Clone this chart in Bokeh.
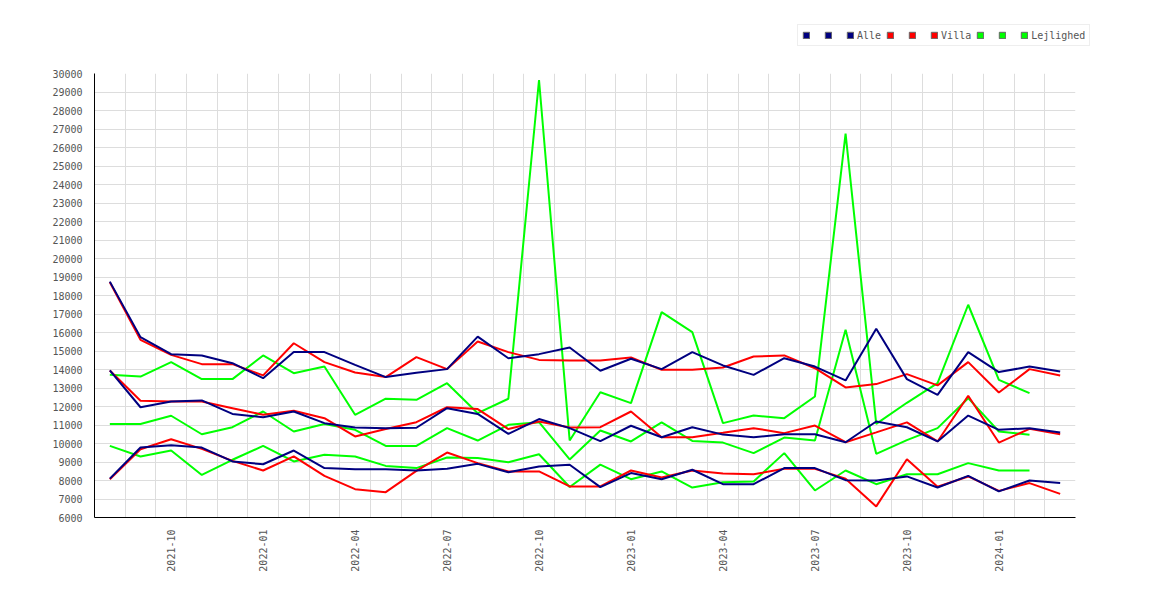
import math
from bokeh.plotting import figure
from bokeh.models import Range1d, FixedTicker, SingleIntervalTicker, Legend, LegendItem, ColumnDataSource
from bokeh.embed import file_html
from bokeh.resources import INLINE
from bokeh.core.properties import value

months = ["2021-08", "2021-09", "2021-10", "2021-11", "2021-12",
          "2022-01", "2022-02", "2022-03", "2022-04", "2022-05", "2022-06",
          "2022-07", "2022-08", "2022-09", "2022-10", "2022-11", "2022-12",
          "2023-01", "2023-02", "2023-03", "2023-04", "2023-05", "2023-06",
          "2023-07", "2023-08", "2023-09", "2023-10", "2023-11", "2023-12",
          "2024-01", "2024-02", "2024-03"]

alle_high = [18750, 15750, 14830, 14760, 14340, 13530, 14940, 14940, 14250, 13590, 13820,
             14020, 15780, 14610, 14830, 15190, 13930, 14580, 14020, 14940, 14220, 13710,
             14610, 14160, 13410, 16200, 13480, 12630, 14940, 13860, 14160, 13890]
alle_mid = [13950, 11960, 12270, 12330, 11600, 11420, 11730, 11100, 10870, 10830, 10850,
            11910, 11600, 10520, 11320, 10830, 10130, 10960, 10340, 10880, 10480, 10340,
            10500, 10500, 10070, 11190, 10880, 10110, 11510, 10740, 10830, 10600]
alle_low = [8100, 9780, 9910, 9780, 9030, 8880, 9620, 8670, 8610, 8610, 8540,
            8630, 8900, 8450, 8760, 8850, 7640, 8400, 8070, 8580, 7800, 7800,
            8670, 8670, 8020, 8000, 8220, 7620, 8250, 7410, 8000, 7860]

villa_high = [18720, 15600, 14790, 14290, 14290, 13680, 15420, 14400, 13840, 13590, 14670,
              14020, 15510, 14940, 14520, 14490, 14490, 14650, 13980, 13980, 14110, 14700,
              14760, 14070, 13030, 13210, 13750, 13140, 14400, 12760, 14020, 13680]
villa_mid = [13950, 12310, 12270, 12270, 11910, 11550, 11770, 11370, 10380, 10780, 11150,
             11960, 11860, 10780, 11190, 10870, 10880, 11730, 10340, 10340, 10580, 10830,
             10560, 10970, 10070, 10600, 11140, 10110, 12580, 10050, 10790, 10500]
villa_low = [8070, 9690, 10230, 9710, 9060, 8540, 9300, 8250, 7530, 7370, 8520,
             9510, 8940, 8490, 8490, 7680, 7680, 8540, 8160, 8540, 8380, 8340,
             8630, 8630, 8100, 6600, 9150, 7660, 8220, 7440, 7860, 7280]

lejl_high = [13710, 13620, 14400, 13480, 13480, 14760, 13800, 14160, 11550, 12420, 12360,
             13260, 11640, 12420, 29650, 10160, 12770, 12180, 17100, 16020, 11100, 11510,
             11370, 12540, 26750, 11060, 12200, 13260, 17500, 13440, 12720]
lejl_mid = [11050, 11050, 11500, 10500, 10880, 11730, 10650, 11050, 10740, 9870, 9870,
            10830, 10160, 11010, 11150, 9140, 10700, 10110, 11140, 10140, 10050, 9480,
            10320, 10160, 16150, 9440, 10180, 10830, 12450, 10650, 10470]
lejl_low = [9870, 9300, 9620, 8300, 9120, 9870, 9030, 9390, 9300, 8790, 8670,
            9240, 9210, 8990, 9420, 7650, 8860, 8070, 8490, 7620, 7900, 7950,
            9480, 7460, 8540, 7800, 8340, 8340, 8940, 8540, 8540]

groups = [("Alle", "#000080", [alle_high, alle_mid, alle_low]),
          ("Villa", "#ff0000", [villa_high, villa_mid, villa_low]),
          ("Lejlighed", "#00ff00", [lejl_high, lejl_mid, lejl_low])]

FONT = "DejaVu Sans Mono"
TXT = "#555555"
W = 1154
LEG_H = 50

# ---- legend strip (separate small figure above the chart) ----
lf = figure(width=W, height=LEG_H, output_backend="svg", toolbar_location=None,
            x_range=Range1d(0, 1), y_range=Range1d(0, 1),
            min_border_left=0, min_border_right=0, min_border_top=0, min_border_bottom=0)
lf.axis.visible = False
lf.grid.visible = False
lf.outline_line_color = None
lf.background_fill_color = "white"
lf.border_fill_color = "white"

nan = float("nan")
items = []
for name, color, series in groups:
    for k in range(3):
        r = lf.rect(x=[nan], y=[nan], width=1, height=1,
                    fill_color=color, line_color="#666666", line_width=1)
        items.append(LegendItem(label=value(name if k == 2 else " "), renderers=[r]))
legend = Legend(items=items, orientation="horizontal", location=(797, LEG_H - 46),
                glyph_width=8, glyph_height=8, label_standoff=3, spacing=5, padding=4, margin=0,
                label_width=6, label_height=12, label_text_font=FONT, label_text_font_size="10px",
                label_text_color=TXT, border_line_color="#dddddd", background_fill_alpha=1)
lf.add_layout(legend, "center")

# ---- main chart ----
p = figure(width=W, height=584 - LEG_H, output_backend="svg", toolbar_location=None,
           x_range=Range1d(-0.5, 31.5), y_range=Range1d(6000, 30000),
           min_border_left=94, min_border_right=W - 1075,
           min_border_top=73 - LEG_H, min_border_bottom=584 - 517)
p.outline_line_color = None
p.background_fill_color = "white"
p.border_fill_color = "white"

# lines: draw Lejlighed first, Alle last (on top)
for name, color, series in reversed(groups):
    for s in series:
        src = ColumnDataSource(dict(x=list(range(len(s))), y=s))
        p.line("x", "y", source=src, line_color=color, line_width=2)

tick_idx = [i for i, m in enumerate(months) if m[5:] in ("01", "04", "07", "10")]
p.xaxis.ticker = FixedTicker(ticks=tick_idx)
p.xaxis.major_label_overrides = {i: months[i] for i in tick_idx}
p.xaxis.major_label_orientation = math.pi / 2
p.yaxis.ticker = SingleIntervalTicker(interval=1000, num_minor_ticks=0)
for ax in (p.xaxis, p.yaxis):
    ax.axis_line_color = "black"
    ax.axis_line_width = 1
    ax.major_tick_line_color = None
    ax.minor_tick_line_color = None
    ax.major_label_standoff = 6
    ax.major_label_text_font = FONT
    ax.major_label_text_font_size = "10px"
    ax.major_label_text_color = TXT
p.yaxis.formatter.use_scientific = False

p.xgrid.ticker = FixedTicker(ticks=[i + 0.5 for i in range(-1, len(months))])
p.ygrid.ticker = SingleIntervalTicker(interval=1000, num_minor_ticks=0)
p.xgrid.grid_line_color = "#dddddd"
p.ygrid.grid_line_color = "#dddddd"

open("out.html", "w").write(file_html([lf, p], INLINE))
